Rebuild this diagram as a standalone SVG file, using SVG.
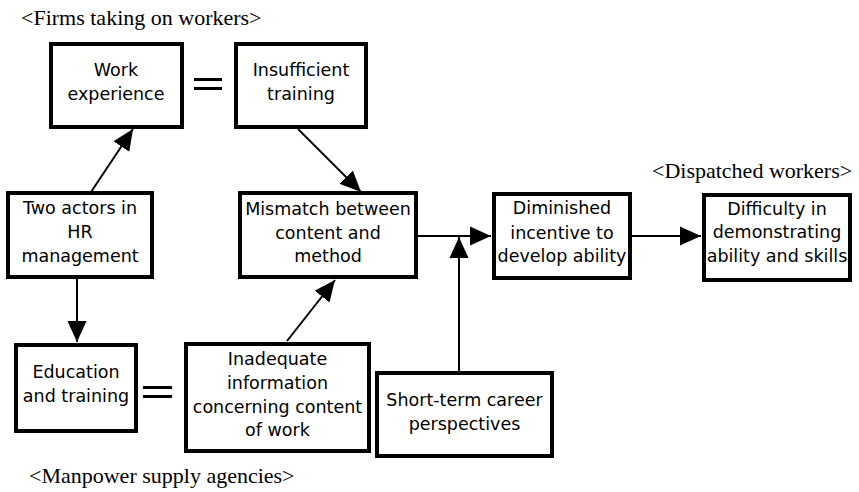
<svg xmlns="http://www.w3.org/2000/svg" width="859" height="492" viewBox="0 0 859 492">
<style>
.box{fill:#fff;stroke:#000;stroke-width:4}
.t{font-family:"DejaVu Sans",sans-serif;font-size:17.5px;fill:#000;text-anchor:middle}
.lbl{font-family:"Liberation Serif","Times New Roman",serif;font-size:22px;fill:#000}
.c{stroke:#000;stroke-width:2;fill:none;marker-end:url(#ah)}
.eq{fill:#000}
</style>
<defs>
<marker id="ah" markerUnits="userSpaceOnUse" markerWidth="21" markerHeight="20" refX="21" refY="10" orient="auto">
<path d="M0,0.5 L21,10 L0,19.5 z" fill="#000"/>
</marker>
</defs>
<rect width="859" height="492" fill="#fff"/>
<text class="lbl" x="21" y="25">&lt;Firms taking on workers&gt;</text>
<text class="lbl" x="652" y="178">&lt;Dispatched workers&gt;</text>
<text class="lbl" x="29" y="483">&lt;Manpower supply agencies&gt;</text>
<g id="connectors">
<line class="c" x1="91" y1="192" x2="133" y2="129"/>
<line class="c" x1="298" y1="129" x2="361" y2="192"/>
<line class="c" x1="77" y1="279" x2="77" y2="342"/>
<line class="c" x1="287" y1="341" x2="335" y2="280"/>
<line class="c" x1="417" y1="236" x2="491" y2="236"/>
<line class="c" x1="459" y1="371" x2="459" y2="237"/>
<line class="c" x1="631" y1="236" x2="701" y2="236"/>
</g>
<g id="eq1"><rect class="eq" x="194" y="78" width="28" height="3"/><rect class="eq" x="194" y="87" width="28" height="3"/></g>
<g id="eq2"><rect class="eq" x="143" y="386" width="29" height="3"/><rect class="eq" x="143" y="395" width="29" height="3"/></g>
<g id="work-experience">
<rect class="box" x="51" y="44" width="131" height="83"/>
<text class="t" x="116" y="76">Work</text>
<text class="t" x="116" y="100">experience</text>
</g>
<g id="insufficient-training">
<rect class="box" x="236" y="44" width="130" height="83"/>
<text class="t" x="301" y="76">Insufficient</text>
<text class="t" x="301" y="100">training</text>
</g>
<g id="two-actors">
<rect class="box" x="8" y="193" width="144" height="84"/>
<text class="t" x="80" y="214">Two actors in</text>
<text class="t" x="80" y="238">HR</text>
<text class="t" x="80" y="262">management</text>
</g>
<g id="mismatch">
<rect class="box" x="240" y="193" width="176" height="84"/>
<text class="t" x="328" y="215">Mismatch between</text>
<text class="t" x="328" y="239">content and</text>
<text class="t" x="328" y="262">method</text>
</g>
<g id="diminished">
<rect class="box" x="494" y="194" width="136" height="84"/>
<text class="t" x="562" y="214">Diminished</text>
<text class="t" x="562" y="239">incentive to</text>
<text class="t" x="562" y="262">develop ability</text>
</g>
<g id="difficulty">
<rect class="box" x="704" y="195" width="146" height="85"/>
<text class="t" x="777" y="215">Difficulty in</text>
<text class="t" x="777" y="238">demonstrating</text>
<text class="t" x="777" y="262">ability and skills</text>
</g>
<g id="education">
<rect class="box" x="16" y="345" width="120" height="86"/>
<text class="t" x="76" y="378">Education</text>
<text class="t" x="76" y="402">and training</text>
</g>
<g id="inadequate">
<rect class="box" x="186" y="344" width="183" height="107"/>
<text class="t" x="277.5" y="365">Inadequate</text>
<text class="t" x="277.5" y="389">information</text>
<text class="t" x="277.5" y="413">concerning content</text>
<text class="t" x="277.5" y="436">of work</text>
</g>
<g id="short-term">
<rect class="box" x="377" y="373" width="175" height="83"/>
<text class="t" x="464.5" y="406">Short-term career</text>
<text class="t" x="464.5" y="430">perspectives</text>
</g>
</svg>
